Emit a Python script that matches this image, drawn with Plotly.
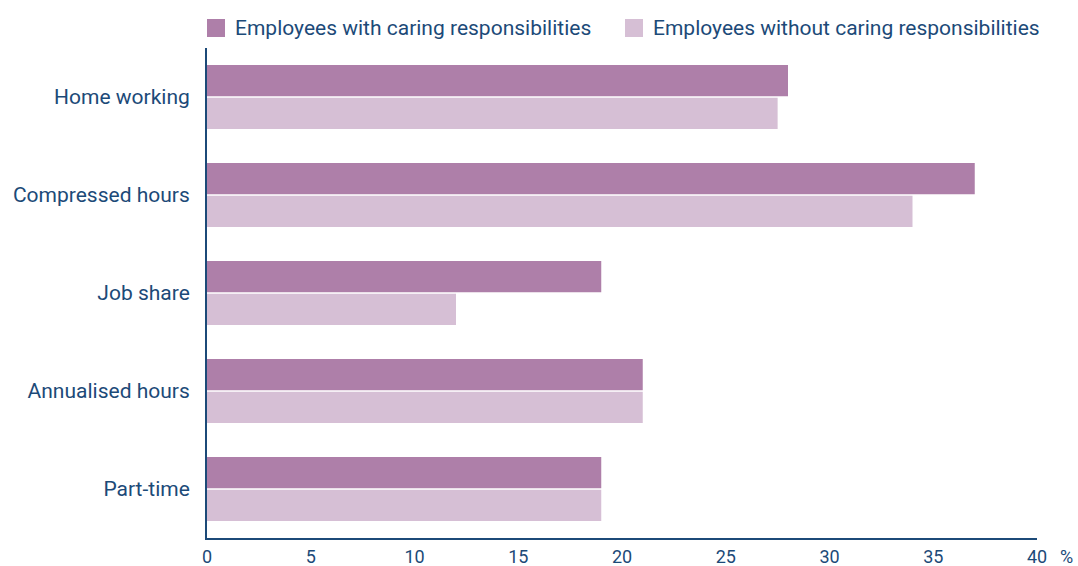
import plotly.graph_objects as go

categories = ["Home working", "Compressed hours", "Job share", "Annualised hours", "Part-time"]
with_caring = [28, 37, 19, 21, 19]
without_caring = [27.5, 34, 12, 21, 19]
x_ticks = [0, 5, 10, 15, 20, 25, 30, 35, 40]
series_names = ["Employees with caring responsibilities", "Employees without caring responsibilities"]
series_colors = ["#ae7fa9", "#d6bfd5"]

navy = "#1c4a78"
font_family = "Roboto, Arial, sans-serif"

L, R, T, B = 207, 41, 48, 28
W, H = 1078, 566
pw, ph = W - L - R, H - T - B

def px_x(p):
    return (p - L) / pw

def px_y(p):
    return (H - B - p) / ph

fig = go.Figure()
fig.add_trace(go.Bar(y=categories, x=with_caring, orientation="h", name=series_names[0],
                     marker=dict(color=series_colors[0], line=dict(width=0)), showlegend=False))
fig.add_trace(go.Bar(y=categories, x=without_caring, orientation="h", name=series_names[1],
                     marker=dict(color=series_colors[1], line=dict(width=0)), showlegend=False))

fig.update_layout(
    width=W, height=H,
    margin=dict(l=L, r=R, t=T, b=B, autoexpand=False),
    barmode="group", bargap=0.33, bargroupgap=0.05,
    plot_bgcolor="white", paper_bgcolor="white",
    font=dict(family=font_family, size=21, color=navy),
    showlegend=False,
    xaxis=dict(range=[0, 40], tickvals=x_ticks, ticktext=[str(v) for v in x_ticks],
               showgrid=False, zeroline=False, showline=True, linecolor=navy, linewidth=2,
               ticks="", tickfont=dict(size=18, color=navy), ticklabelstandoff=1,
               automargin=False),
    yaxis=dict(autorange="reversed", showgrid=False, zeroline=False, showline=True,
               linecolor=navy, linewidth=2, ticks="", tickfont=dict(size=21, color=navy),
               ticklabelstandoff=11, automargin=False),
)

# Custom legend (squares + labels)
legend_items = [(207, 225, 233), (625, 643, 651)]
for (x0, x1, tx), name, col in zip(legend_items, series_names, series_colors):
    fig.add_shape(type="rect", xref="paper", yref="paper",
                  x0=px_x(x0), x1=px_x(x1), y0=px_y(37), y1=px_y(19),
                  fillcolor=col, line=dict(width=0))
    fig.add_annotation(text=name, xref="paper", yref="paper", x=px_x(tx), y=px_y(28),
                       showarrow=False, xanchor="left", yanchor="middle",
                       font=dict(size=21, color=navy))

fig.add_annotation(text="%", xref="paper", yref="paper", x=px_x(1058), y=px_y(556),
                   showarrow=False, font=dict(size=18, color=navy), xanchor="left", yanchor="middle")

fig.write_html("out.html")
